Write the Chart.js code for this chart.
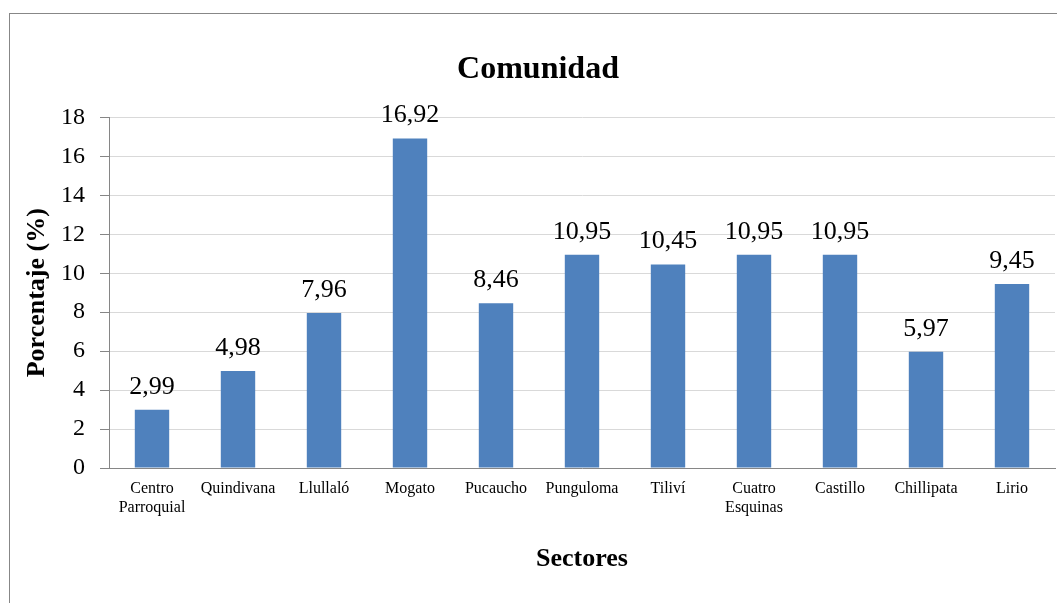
<!DOCTYPE html>
<html>
<head>
<meta charset="utf-8">
<script src="https://cdn.jsdelivr.net/npm/chart.js@4/dist/chart.umd.min.js"></script>
<style>
    html, body { margin: 0; padding: 0; background: #fff; overflow: hidden; }
    #wrap { position: relative; width: 1076px; height: 603px; }
    #frame { position: absolute; left: 9px; top: 13px; width: 1100px; height: 700px; border: 1px solid #878787; box-sizing: border-box; pointer-events: none; }
    canvas { position: absolute; left: 0; top: 0; }
</style>
</head>
<body>
<div id="wrap">
    <canvas id="chart" width="1076" height="603"></canvas>
    <div id="frame"></div>
</div>
<script>
const sectores = [
    ['Centro', 'Parroquial'], 'Quindivana', 'Llullaló', 'Mogato', 'Pucaucho',
    'Punguloma', 'Tiliví', ['Cuatro', 'Esquinas'], 'Castillo', 'Chillipata', 'Lirio'
];
const porcentajes = [2.99, 4.98, 7.96, 16.92, 8.46, 10.95, 10.45, 10.95, 10.95, 5.97, 9.45];
const yTicks = [0, 2, 4, 6, 8, 10, 12, 14, 16, 18];

const SERIF = '"Liberation Serif", "Times New Roman", serif';
const AXIS_GRAY = '#868686';

const fmt = v => v.toFixed(2).replace('.', ',');

// draws the value above every bar
const valueLabels = {
    id: 'valueLabels',
    afterDatasetsDraw(chart) {
        const ctx = chart.ctx;
        const meta = chart.getDatasetMeta(0);
        ctx.save();
        ctx.font = '26px ' + SERIF;
        ctx.fillStyle = '#000';
        ctx.textAlign = 'center';
        ctx.textBaseline = 'alphabetic';
        meta.data.forEach((bar, i) => {
            ctx.fillText(fmt(porcentajes[i]), bar.x, bar.y - 16);
        });
        ctx.restore();
    }
};

new Chart(document.getElementById('chart'), {
    type: 'bar',
    data: {
        labels: sectores,
        datasets: [{
            data: porcentajes,
            backgroundColor: '#4f81bd',
            borderWidth: 0,
            categoryPercentage: 1,
            barPercentage: 0.4
        }]
    },
    options: {
        responsive: false,
        animation: false,
        layout: { padding: { left: 21, right: 21, top: 0, bottom: 0 } },
        plugins: {
            legend: { display: false },
            tooltip: { enabled: false },
            title: {
                display: true,
                text: 'Comunidad',
                color: '#000',
                font: { family: SERIF, size: 32, weight: 'bold', lineHeight: 1.2 },
                padding: { top: 51, bottom: 28 }
            }
        },
        scales: {
            x: {
                grid: { display: false, drawTicks: false },
                border: { display: true, color: AXIS_GRAY, width: 1 },
                ticks: {
                    color: '#000',
                    padding: 11,
                    maxRotation: 0,
                    autoSkip: false,
                    font: { family: SERIF, size: 16, lineHeight: 1.2 }
                },
                title: {
                    display: true,
                    text: 'Sectores',
                    color: '#000',
                    font: { family: SERIF, size: 26, weight: 'bold', lineHeight: 1.2 },
                    padding: { top: 0, bottom: 28 }
                },
                afterFit(scale) { scale.height = 603 - 468; }
            },
            y: {
                min: 0,
                max: 18,
                afterBuildTicks(scale) { scale.ticks = yTicks.map(v => ({ value: v })); },
                grid: { color: '#d9d9d9', tickColor: AXIS_GRAY, tickLength: 9, lineWidth: 1 },
                border: { display: true, color: AXIS_GRAY, width: 1 },
                ticks: {
                    color: '#000',
                    padding: 15,
                    font: { family: SERIF, size: 24 }
                },
                title: {
                    display: true,
                    text: 'Porcentaje (%)',
                    color: '#000',
                    font: { family: SERIF, size: 26, weight: 'bold', lineHeight: 1.2 },
                    padding: { top: 1, bottom: 0 }
                },
                afterFit(scale) { scale.width = 88; }
            }
        }
    },
    plugins: [valueLabels]
});
</script>
</body>
</html>
